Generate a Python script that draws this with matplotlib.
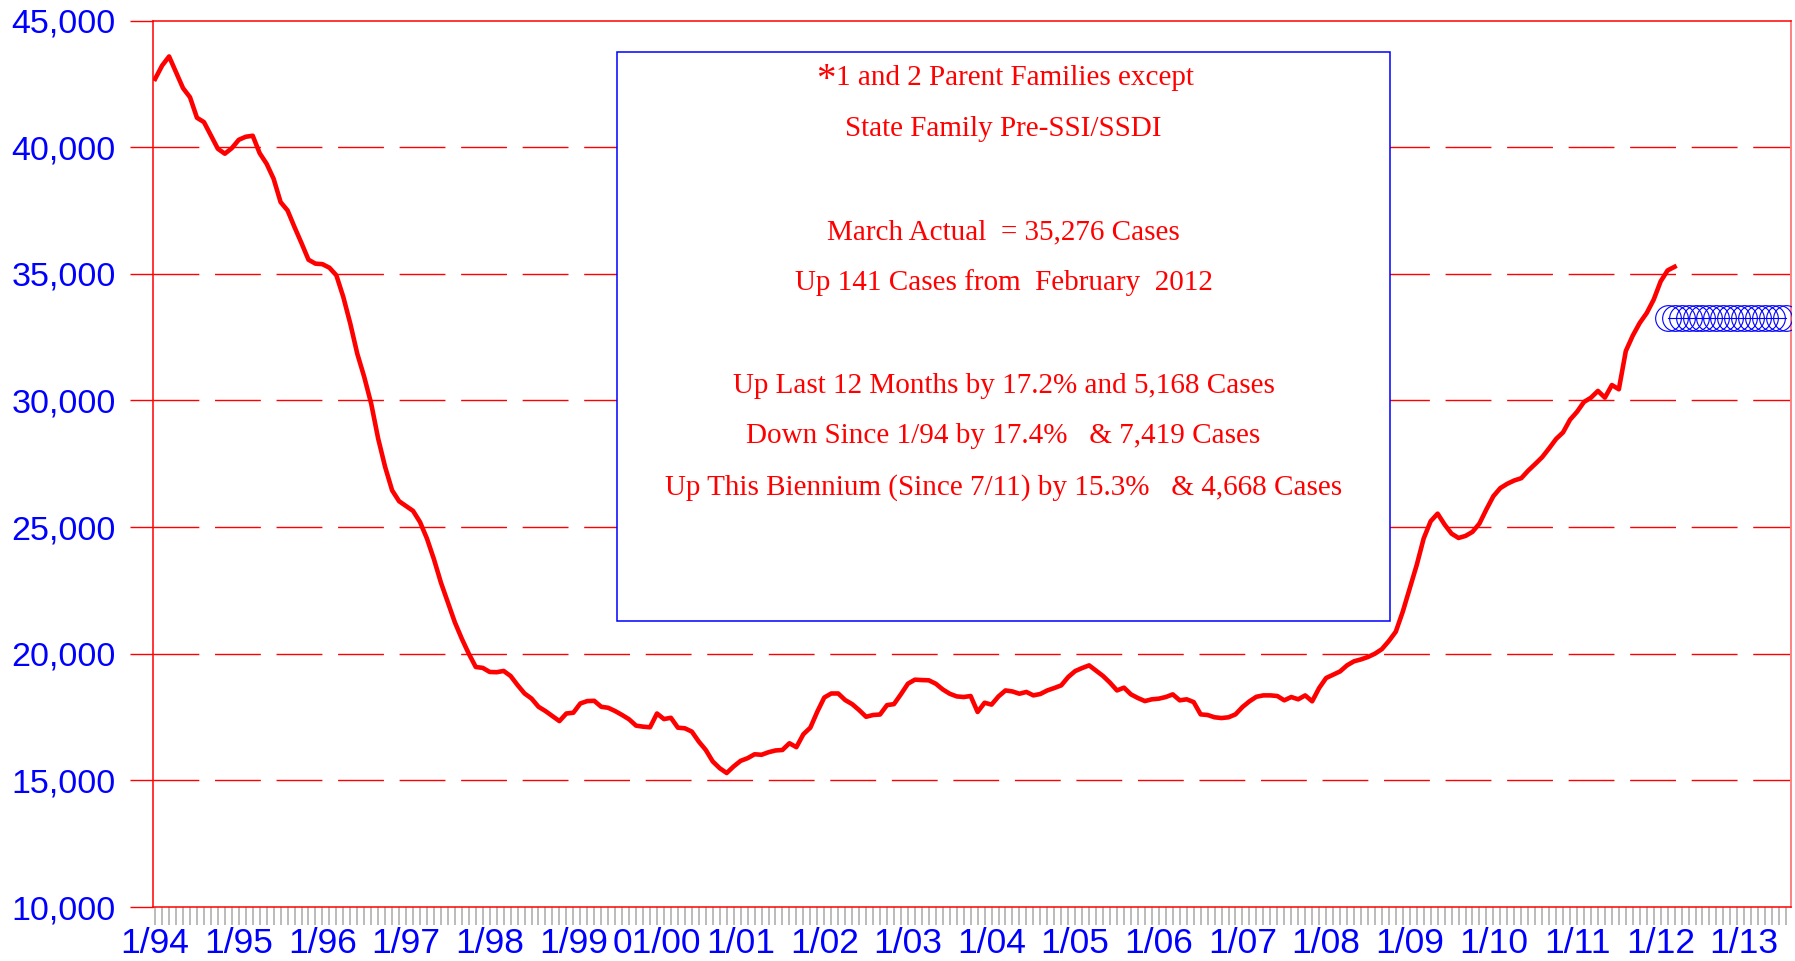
import matplotlib
matplotlib.use('Agg')
import matplotlib.pyplot as plt
from matplotlib.ticker import FixedLocator, FuncFormatter
import numpy as np

# monthly caseload, 1/94 .. 3/12
cases = [
    42695, 43220, 43580, 42960, 42330, 41970, 41160, 40990, 40460, 39935, 39740, 39960,  # 1994
    40290, 40410, 40450, 39760, 39340, 38750, 37830, 37500, 36840, 36210, 35555, 35400,  # 1995
    35380, 35240, 34940, 34080, 33030, 31845, 30925, 29870, 28490, 27370, 26450, 26020,  # 1996
    25830, 25640, 25200, 24545, 23730, 22810, 22030, 21240, 20590, 20000, 19476, 19440,  # 1997
    19280, 19270, 19320, 19120, 18760, 18430, 18230, 17905, 17735, 17540, 17340, 17640,  # 1998
    17670, 18035, 18130, 18140, 17905, 17865, 17735, 17580, 17410, 17160, 17120, 17095,  # 1999
    17640, 17420, 17470, 17080, 17055, 16925, 16530, 16200, 15745, 15480, 15290, 15550,  # 2000
    15770, 15875, 16030, 16010, 16110, 16180, 16200, 16465, 16310, 16820, 17080, 17710,  # 2001
    18270, 18430, 18430, 18170, 18010, 17775, 17510, 17580, 17600, 17970, 18010, 18400,  # 2002
    18815, 18975, 18960, 18950, 18815, 18590, 18420, 18315, 18290, 18330, 17700, 18065,  # 2003
    17990, 18315, 18550, 18510, 18420, 18490, 18355, 18410, 18550, 18645, 18750, 19080,  # 2004
    19315, 19435, 19540, 19330, 19120, 18855, 18550, 18660, 18395, 18250, 18130, 18200,  # 2005
    18225, 18290, 18395, 18160, 18200, 18090, 17605, 17580, 17490, 17460, 17490, 17605,  # 2006
    17895, 18120, 18300, 18355, 18355, 18330, 18160, 18290, 18200, 18355, 18120, 18645,  # 2007
    19040, 19170, 19300, 19540, 19700, 19775, 19870, 20000, 20180, 20500, 20870, 21660,  # 2008
    22580, 23500, 24550, 25230, 25530, 25100, 24740, 24570, 24650, 24810, 25140, 25700,  # 2009
    26220, 26540, 26710, 26840, 26930, 27230, 27490, 27760, 28110, 28480, 28740, 29240,  # 2010
    29550, 29940, 30108, 30375, 30110, 30608, 30440, 31950, 32560, 33060, 33450, 33980,  # 2011
    34700, 35135, 35276,                                                                  # 2012
]

# forecast for the rest of the biennium (flat)
forecast_start = 217
forecast_end = 234
forecast_value = 33250

year_labels = ['1/94', '1/95', '1/96', '1/97', '1/98', '1/99', '01/00', '1/01', '1/02', '1/03',
               '1/04', '1/05', '1/06', '1/07', '1/08', '1/09', '1/10', '1/11', '1/12', '1/13']

box_lines = [
    '1 and 2 Parent Families except',
    'State Family Pre-SSI/SSDI',
    '',
    'March Actual  = 35,276 Cases',
    'Up 141 Cases from  February  2012',
    '',
    'Up Last 12 Months by 17.2% and 5,168 Cases',
    'Down Since 1/94 by 17.4%   & 7,419 Cases',
    'Up This Biennium (Since 7/11) by 15.3%   & 4,668 Cases',
]

W, H = 1795, 961
fig = plt.figure(figsize=(W / 100, H / 100), dpi=100)
ax = fig.add_axes([152.7 / W, 1 - 907 / H, (1791 - 152.7) / W, (907 - 20.5) / H])

months = np.arange(len(cases))
ax.plot(months, cases, color='#FF0000', lw=3.3, solid_joinstyle='round', zorder=4)

fx = np.arange(forecast_start, forecast_end + 1)
ax.plot(fx, [forecast_value] * len(fx), color='#0000FF', lw=0.8, marker='o',
        markersize=18.5, markerfacecolor='none', markeredgecolor='#0000FF',
        markeredgewidth=0.8, zorder=3)

ax.set_xlim(-0.35, 234.7)
ax.set_ylim(10000, 45000)

# dashed red grid
for yv in range(15000, 45000, 5000):
    ax.axhline(yv, color='#FF0000', lw=1.0, linestyle=(0, (33, 11.3)), zorder=1)

# spines
for s in ['left', 'top', 'bottom']:
    ax.spines[s].set_color('#FF0000')
    ax.spines[s].set_linewidth(1.1)
ax.spines['right'].set_color('#FF8080')
ax.spines['right'].set_linewidth(1.4)

# y axis
ax.set_yticks(range(10000, 45001, 5000))
ax.yaxis.set_major_formatter(FuncFormatter(lambda v, p: f'{int(v):,}'))
ax.tick_params(axis='y', direction='out', length=16.5, width=1.0, color='#FF0000',
               labelcolor='#0000FF', labelsize=24.5, pad=10)

# x axis: a tick every month, labels every January
ax.xaxis.set_major_locator(FixedLocator(np.arange(0, 229, 12)))
ax.xaxis.set_minor_locator(FixedLocator(np.arange(0, 235)))
ax.set_xticklabels(year_labels)
ax.tick_params(axis='x', which='both', direction='out', length=12.7, width=1.1,
               color='#A8A8A8')
ax.tick_params(axis='x', which='major', labelcolor='#0000FF', labelsize=25.5, pad=2)

for lab in ax.get_xticklabels() + ax.get_yticklabels():
    lab.set_fontfamily(['Liberation Sans', 'DejaVu Sans'])

# text box (pixel coords of the figure)
bx0, bx1, by0, by1 = 617, 1390, 52, 620.5
box = plt.Rectangle((bx0 / W, 1 - by1 / H), (bx1 - bx0) / W, (by1 - by0) / H,
                    transform=fig.transFigure, facecolor='white', edgecolor='#0000FF',
                    lw=1.1, zorder=5)
fig.patches.append(box)

line_y = [78, 129.4, 0, 232.5, 282.8, 0, 385.9, 436.3, 487.8]
for i, (txt, yy) in enumerate(zip(box_lines, line_y)):
    if not txt:
        continue
    cx = 1015 if i == 0 else 1003.5
    t = fig.text(cx / W, 1 - yy / H, txt, ha='center', va='center', color='#FF0000',
                 fontsize=21, family=['Liberation Serif', 'DejaVu Serif'], zorder=6)
    if i == 0:
        fig.add_artist(plt.Annotation('*', xy=(0, 1.12), xycoords=t, ha='right', va='top',
                                      color='#FF0000', fontsize=28,
                                      family=['Liberation Serif', 'DejaVu Serif'],
                                      zorder=6))

fig.savefig('out.png', dpi=100, facecolor='white')
